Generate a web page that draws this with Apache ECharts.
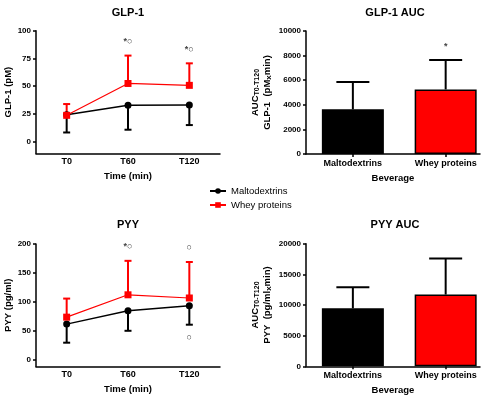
<!DOCTYPE html>
<html>
<head>
<meta charset="utf-8">
<script src="https://cdn.jsdelivr.net/npm/echarts@6/dist/echarts.min.js"></script>
<style>
html, body {margin:0; padding:0; background:#fff;}
#main {width:490px; height:402px;}
</style>
</head>
<body>
<div id="main"></div>
<script>
// categories
var times = ['T0', 'T60', 'T120'];
var beverages = ['Maltodextrins', 'Whey proteins'];

// GLP-1 (pM): means, lower SD end (maltodextrins), upper SD end (whey)
var glpMalto = [24, 32.7, 32.8];
var glpMaltoLow = [8, 10.5, 14.7];
var glpWhey = [23.5, 52.3, 50.6];
var glpWheyHigh = [33.7, 77.5, 70.5];
var glpMarks = [['T60', 90, '*○'], ['T120', 83, '*○']];
var glpTicks = [0, 25, 50, 75, 100];

// PYY (pg/ml)
var pyyMalto = [62, 85, 93.5];
var pyyMaltoLow = [30, 50.5, 61];
var pyyWhey = [74, 112.5, 107];
var pyyWheyHigh = [106, 171, 169];
var pyyMarks = [['T60', 196, '*○'], ['T120', 194, '○'], ['T120', 38.5, '○']];
var pyyTicks = [0, 50, 100, 150, 200];

// AUC T0-T120
var glpAuc = [3630, 5250];
var glpAucHigh = [5850, 7640];
var glpAucMarks = [['Whey proteins', 8750, '*']];
var pyyAuc = [9450, 11700];
var pyyAucHigh = [12900, 17600];
var barColors = ['#000000', '#ff0000'];

var FONT = 'Liberation Sans, Arial, sans-serif';

// vertical one-sided error bar from mean to end, with a cap
function errorBars(xi, means, ends, cap, color) {
    return {
        type: 'custom', xAxisIndex: xi, yAxisIndex: xi, z: 1, silent: true,
        encode: {x: 0, y: [1, 2]},
        data: means.map(function(m, i){ return [i, m, ends[i]]; }),
        renderItem: function(params, api){
            var p0 = api.coord([api.value(0), api.value(1)]);
            var p1 = api.coord([api.value(0), api.value(2)]);
            var st = {stroke: color, lineWidth: 2};
            return {type: 'group', children: [
                {type: 'line', shape: {x1: p0[0], y1: p0[1], x2: p1[0], y2: p1[1]}, style: st},
                {type: 'line', shape: {x1: p1[0] - cap / 2, y1: p1[1], x2: p1[0] + cap / 2, y2: p1[1]}, style: st}
            ]};
        }
    };
}

// significance marks (* and ○)
function sigMarks(xi, cats, list) {
    return {
        type: 'custom', xAxisIndex: xi, yAxisIndex: xi, z: 5, silent: true,
        data: list.map(function(m){ return [cats.indexOf(m[0]), m[1]]; }),
        renderItem: function(params, api){
            var p = api.coord([api.value(0), api.value(1)]);
            return {type: 'text', x: p[0], y: p[1], style: {
                text: list[params.dataIndex][2], fill: '#444',
                font: 'bold 9px ' + FONT, align: 'center', verticalAlign: 'middle'
            }};
        }
    };
}

function lineXAxis(gi, gap) {
    return {
        gridIndex: gi, type: 'category', data: times, boundaryGap: true,
        name: 'Time (min)', nameLocation: 'middle', nameGap: gap, nameMoveOverlap: false,
        nameTextStyle: {fontFamily: FONT, fontWeight: 'bold', fontSize: 9.5, color: '#000'},
        axisLine: {onZero: false, lineStyle: {color: '#000', width: 1.5}},
        axisTick: {alignWithLabel: true, length: 3, lineStyle: {color: '#000', width: 1.5}},
        axisLabel: {margin: 4, fontFamily: FONT, fontWeight: 'bold', fontSize: 9, color: '#000'},
        splitLine: {show: false}
    };
}

function barXAxis(gi) {
    return {
        gridIndex: gi, type: 'value', min: -0.505, max: 1.37,
        name: 'Beverage', nameLocation: 'middle', nameGap: 19, nameMoveOverlap: false,
        nameTextStyle: {fontFamily: FONT, fontWeight: 'bold', fontSize: 9.5, color: '#000'},
        axisLine: {onZero: false, lineStyle: {color: '#000', width: 1.5}},
        axisTick: {customValues: [0, 1], length: 3, lineStyle: {color: '#000', width: 1.5}},
        axisLabel: {customValues: [0, 1], margin: 5, fontFamily: FONT, fontWeight: 'bold', fontSize: 9, color: '#000',
            formatter: function(v){ return beverages[v]; }},
        splitLine: {show: false}
    };
}

function yAxisOf(gi, opts) {
    var ax = {
        gridIndex: gi, type: 'value',
        nameLocation: 'middle', nameRotate: 90, nameMoveOverlap: false,
        nameTextStyle: {fontFamily: FONT, fontWeight: 'bold', fontSize: 9.5, color: '#000', align: 'center'},
        axisLine: {show: true, onZero: false, lineStyle: {color: '#000', width: 1.5}},
        axisTick: {show: true, length: 3, lineStyle: {color: '#000', width: 1.5}},
        axisLabel: {margin: 5, fontFamily: FONT, fontWeight: 'bold', fontSize: 8, color: '#000',
            formatter: function(v){ return String(v); }},
        splitLine: {show: false}
    };
    for (var k in opts) {
        if (k === 'ticks') {
            ax.axisTick.customValues = opts.ticks;
            ax.axisLabel.customValues = opts.ticks;
        } else {
            ax[k] = opts[k];
        }
    }
    return ax;
}

var subRich = {
    a: {fontFamily: FONT, fontWeight: 'bold', fontSize: 9.5, color: '#000'},
    s: {fontFamily: FONT, fontWeight: 'bold', fontSize: 7, color: '#000', verticalAlign: 'bottom', padding: [5, 0, 0, 0]},
    x: {fontFamily: FONT, fontWeight: 'bold', fontSize: 8, color: '#000', verticalAlign: 'bottom'}
};

function titleOf(text, x, y) {
    return {text: text, left: x, top: y, textAlign: 'center', padding: 0,
        textStyle: {fontFamily: FONT, fontWeight: 'bold', fontSize: 11, color: '#000'}};
}

var chart = echarts.init(document.getElementById('main'), null, {renderer: 'canvas'});
var option = {
    backgroundColor: '#fff',
    animation: false,
    title: [
        titleOf('GLP-1', 128, 7),
        titleOf('GLP-1 AUC', 395, 7),
        titleOf('PYY', 128, 219),
        titleOf('PYY AUC', 395, 219)
    ],
    legend: {
        orient: 'vertical', left: 204, top: 181, itemGap: 4,
        itemWidth: 16, itemHeight: 7,
        data: ['Maltodextrins', 'Whey proteins'],
        textStyle: {fontFamily: FONT, fontSize: 9.5, color: '#000'}
    },
    grid: [
        {left: 36, top: 30.7, width: 184, height: 122.8, outerBoundsMode: 'none'},
        {left: 306, top: 31, width: 174, height: 123, outerBoundsMode: 'none'},
        {left: 36, top: 244, width: 184, height: 122.5, outerBoundsMode: 'none'},
        {left: 306, top: 243.7, width: 174, height: 122.6, outerBoundsMode: 'none'}
    ],
    xAxis: [lineXAxis(0, 17.5), barXAxis(1), lineXAxis(2, 17.5), barXAxis(3)],
    yAxis: [
        yAxisOf(0, {min: -11, max: 100, ticks: glpTicks, name: 'GLP-1 (pM)', nameGap: 23}),
        yAxisOf(1, {min: 0, max: 10000, interval: 2000, nameGap: 33,
            name: '{a|AUC}{s|T0-T120}\n{a|GLP-1  (pM}{x|x}{a|min)}',
            nameTextStyle: {rich: subRich, align: 'center', lineHeight: 12}}),
        yAxisOf(2, {min: -11, max: 200, ticks: pyyTicks, name: 'PYY (pg/ml)', nameGap: 23}),
        yAxisOf(3, {min: 0, max: 20000, interval: 5000, nameGap: 33,
            name: '{a|AUC}{s|T0-T120}\n{a|PYY  (pg/ml}{x|x}{a|min)}',
            nameTextStyle: {rich: subRich, align: 'center', lineHeight: 12}})
    ],
    series: [
        errorBars(0, glpMalto, glpMaltoLow, 7, '#000'),
        errorBars(0, glpWhey, glpWheyHigh, 7, '#ff0000'),
        {name: 'Maltodextrins', type: 'line', xAxisIndex: 0, yAxisIndex: 0, data: glpMalto,
            symbol: 'circle', symbolSize: 7, itemStyle: {color: '#000'}, lineStyle: {color: '#000', width: 1.5}},
        {name: 'Whey proteins', type: 'line', xAxisIndex: 0, yAxisIndex: 0, data: glpWhey,
            symbol: 'rect', symbolSize: 7, itemStyle: {color: '#ff0000'}, lineStyle: {color: '#ff0000', width: 1.2}},
        sigMarks(0, times, glpMarks),

        {type: 'bar', xAxisIndex: 1, yAxisIndex: 1, barWidth: 62, z: 2,
            data: glpAuc.map(function(v, i){ return {value: [i, v], itemStyle: {color: barColors[i]}}; }),
            itemStyle: {borderColor: '#000', borderWidth: 1.5}},
        errorBars(1, glpAuc, glpAucHigh, 33, '#000'),
        sigMarks(1, beverages, glpAucMarks),

        errorBars(2, pyyMalto, pyyMaltoLow, 7, '#000'),
        errorBars(2, pyyWhey, pyyWheyHigh, 7, '#ff0000'),
        {name: 'Maltodextrins', type: 'line', xAxisIndex: 2, yAxisIndex: 2, data: pyyMalto,
            symbol: 'circle', symbolSize: 7, itemStyle: {color: '#000'}, lineStyle: {color: '#000', width: 1.5}},
        {name: 'Whey proteins', type: 'line', xAxisIndex: 2, yAxisIndex: 2, data: pyyWhey,
            symbol: 'rect', symbolSize: 7, itemStyle: {color: '#ff0000'}, lineStyle: {color: '#ff0000', width: 1.2}},
        sigMarks(2, times, pyyMarks),

        {type: 'bar', xAxisIndex: 3, yAxisIndex: 3, barWidth: 62, z: 2,
            data: pyyAuc.map(function(v, i){ return {value: [i, v], itemStyle: {color: barColors[i]}}; }),
            itemStyle: {borderColor: '#000', borderWidth: 1.5}},
        errorBars(3, pyyAuc, pyyAucHigh, 33, '#000')
    ]
};
chart.setOption(option);
</script>
</body>
</html>
